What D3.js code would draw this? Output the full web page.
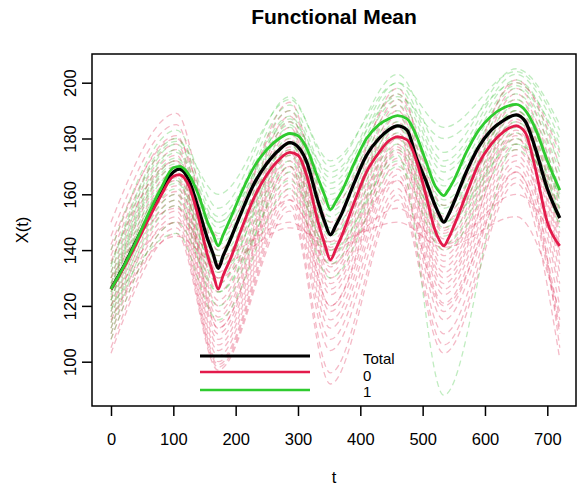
<!DOCTYPE html>
<html><head><meta charset="utf-8">
<script src="https://cdn.jsdelivr.net/npm/d3@7"></script>
<style>
body{margin:0;background:#fff}
svg{display:block}
text{font-family:"Liberation Sans",Arial,Helvetica,sans-serif;fill:#000}
</style>
</head><body>
<svg id="chart" width="578" height="487"></svg>
<script>
// ---------- data ----------
const chartTitle = "Functional Mean";
const xLabel = "t";
const yLabel = "X(t)";
const xTicks = [0, 100, 200, 300, 400, 500, 600, 700];
const yTicks = [100, 120, 140, 160, 180, 200];
const legendLabels = ["Total", "0", "1"];

// mean curves
const meanT = [0, 20, 40, 60, 80, 100, 110, 125, 140, 155, 164, 172, 180, 190, 210, 230, 250, 270, 287, 300, 315, 330, 343, 352, 361, 370, 390, 410, 430, 445, 460, 475, 490, 505, 520, 527, 534, 541, 550, 570, 590, 610, 630, 650, 665, 680, 700, 720];
const meanTotal = [126, 134, 143, 152, 161, 168, 169, 165, 155, 144, 138.5, 133.5, 138, 143, 154, 164, 171, 176, 178.5, 177, 171, 159, 150, 145.5, 149, 153, 164, 174, 180, 183, 184.5, 183, 173, 165, 156, 152.5, 150, 152.5, 157, 168, 177, 183, 186.5, 188.5, 186, 177, 162, 151.5];
const mean0 = [126, 133.5, 142, 151, 159.5, 166.5, 167, 163, 152, 138, 131.5, 126, 131, 136, 148, 159, 167, 172.5, 175, 174, 166, 152, 142, 136.5, 140.5, 145, 157, 168, 175, 179, 180.6, 179.5, 172, 160, 147, 143.5, 141.5, 144, 148.5, 160, 171, 178, 182.5, 184.5, 182, 170, 150, 141.5];
const mean1 = [126, 134, 143, 153, 162, 169.5, 170, 167, 160, 150, 145.5, 141.5, 145.5, 150.5, 161, 170, 176, 180, 181.8, 181, 176, 167, 159.5, 154.5, 157.5, 161, 171, 180, 185, 187, 188.2, 187, 181, 172, 163, 160.8, 159.5, 161.5, 165, 175, 183, 188, 191, 192.2, 190, 184, 172, 161.5];

// individual curves, values at these t positions
const curveT = [0, 105, 172, 287, 352, 460, 534, 650, 720];
const curves0 = [
  [150, 189, 140, 193, 150, 198, 152, 201, 170],
  [145, 185, 135, 188, 146, 194, 150, 198, 165],
  [140, 181, 132, 186, 143, 192, 148, 196, 160],
  [138, 178, 130, 184, 140, 190, 146, 194, 158],
  [135, 176, 128, 182, 141, 188, 147, 192, 155],
  [132, 174, 125, 180, 138, 186, 144, 190, 152],
  [130, 172, 122, 179, 136, 184, 142, 189, 150],
  [128, 170, 120, 177, 134, 182, 140, 187, 148],
  [127, 168, 118, 176, 132, 181, 138, 186, 146],
  [125, 166, 116, 175, 130, 180, 136, 185, 144],
  [123, 165, 114, 174, 128, 178, 134, 183, 142],
  [122, 163, 112, 172, 126, 177, 132, 182, 140],
  [120, 161, 110, 170, 124, 175, 130, 180, 138],
  [118, 160, 108, 168, 120, 173, 126, 178, 135],
  [116, 158, 106, 166, 118, 171, 124, 176, 132],
  [114, 156, 104, 164, 115, 169, 121, 174, 128],
  [112, 154, 102, 162, 112, 167, 118, 172, 125],
  [110, 152, 100, 160, 108, 165, 115, 170, 120],
  [108, 150, 99, 158, 104, 162, 110, 168, 115],
  [105, 148, 98, 156, 96, 160, 106, 166, 110],
  [103, 146, 97, 154, 92, 158, 103, 164, 101],
  [120, 150, 138, 150, 140, 155, 142, 160, 140],
  [115, 145, 135, 148, 143, 150, 141, 152, 118],
  [130, 155, 130, 158, 135, 165, 120, 168, 112],
  [142, 180, 145, 190, 155, 196, 156, 200, 175],
  [136, 172, 112, 170, 120, 176, 128, 181, 105]
];
const curves1 = [
  [140, 183, 155, 195, 170, 203, 175, 205, 185],
  [135, 180, 152, 192, 166, 200, 172, 203, 180],
  [132, 178, 150, 190, 164, 198, 170, 201, 176],
  [130, 176, 148, 188, 162, 196, 168, 199, 173],
  [128, 175, 146, 187, 160, 194, 165, 198, 170],
  [127, 173, 144, 185, 158, 192, 163, 196, 168],
  [125, 171, 142, 184, 156, 190, 161, 194, 165],
  [124, 170, 140, 182, 154, 188, 158, 192, 162],
  [122, 168, 138, 180, 152, 186, 156, 190, 160],
  [120, 166, 136, 178, 150, 184, 153, 188, 157],
  [118, 164, 134, 176, 148, 182, 150, 186, 154],
  [116, 162, 132, 174, 146, 180, 148, 184, 152],
  [114, 160, 128, 172, 142, 178, 145, 182, 150],
  [112, 158, 125, 170, 138, 176, 142, 180, 148],
  [110, 156, 120, 168, 135, 174, 88, 178, 160],
  [108, 150, 125, 165, 140, 172, 150, 178, 155],
  [119, 146, 115, 162, 130, 170, 140, 176, 150],
  [134, 179, 160, 194, 172, 200, 184, 204, 183],
  [126, 172, 150, 186, 168, 195, 180, 200, 178],
  [122, 165, 130, 178, 145, 185, 155, 190, 158]
];

// ---------- drawing ----------
const svg = d3.select("#chart");
const box = {l: 92, t: 54, r: 576, b: 406};
const x = d3.scaleLinear().domain([0, 700]).range([111, 547.3]);
const y = d3.scaleLinear().domain([100, 200]).range([361.7, 82.7]);

const col = {total: "#000000", g0: "#E31A4B", g1: "#2FCB2F",
             f0: "rgba(222,40,80,0.32)", f1: "rgba(60,195,60,0.32)"};

svg.append("clipPath").attr("id", "clip")
  .append("rect").attr("x", box.l).attr("y", box.t)
  .attr("width", box.r - box.l).attr("height", box.b - box.t);

const plot = svg.append("g").attr("clip-path", "url(#clip)");

const lineFaint = d3.line().x(d => x(d[0])).y(d => y(d[1])).curve(d3.curveMonotoneX);
const lineMean = d3.line().x(d => x(d[0])).y(d => y(d[1])).curve(d3.curveMonotoneX);

function drawFaint(set, color) {
  plot.append("g").selectAll("path").data(set).join("path")
    .attr("d", v => lineFaint(curveT.map((t, i) => [t, v[i]])))
    .attr("fill", "none").attr("stroke", color)
    .attr("stroke-width", 1.3).attr("stroke-dasharray", "6,4");
}
drawFaint(curves0, col.f0);
drawFaint(curves1, col.f1);

[[meanTotal, col.total, 3.3], [mean0, col.g0, 2.8], [mean1, col.g1, 2.8]].forEach(([vals, c, w]) => {
  plot.append("path")
    .attr("d", lineMean(meanT.map((t, i) => [t, vals[i]])))
    .attr("fill", "none").attr("stroke", c).attr("stroke-width", w)
    .attr("stroke-linejoin", "round");
});

// box
svg.append("rect").attr("x", box.l).attr("y", box.t)
  .attr("width", box.r - box.l).attr("height", box.b - box.t)
  .attr("fill", "none").attr("stroke", "#000").attr("stroke-width", 1.5);

// x axis
const gx = svg.append("g").attr("transform", `translate(0,${box.b})`)
  .call(d3.axisBottom(x).tickValues(xTicks).tickSize(10).tickPadding(17).tickFormat(d3.format("d")));
gx.select(".domain").remove();
gx.selectAll("line").attr("stroke", "#000").attr("stroke-width", 1.5);
gx.selectAll("text").attr("font-size", 16.5).attr("font-family", "Liberation Sans, Arial, sans-serif").attr("fill", "#000");

// y axis
const gy = svg.append("g").attr("transform", `translate(${box.l},0)`)
  .call(d3.axisLeft(y).tickValues(yTicks).tickSize(10).tickFormat(d3.format("d")));
gy.select(".domain").remove();
gy.selectAll("line").attr("stroke", "#000").attr("stroke-width", 1.5);
gy.selectAll("text")
  .attr("font-size", 16.5).attr("font-family", "Liberation Sans, Arial, sans-serif").attr("fill", "#000")
  .attr("x", 0).attr("y", -16).attr("dy", null)
  .attr("transform", "rotate(-90)")
  .style("text-anchor", "middle");

// titles
svg.append("text").attr("x", 334).attr("y", 23.5).attr("text-anchor", "middle")
  .attr("font-size", 21).attr("font-weight", "bold").text(chartTitle);
svg.append("text").attr("x", 334).attr("y", 483).attr("text-anchor", "middle")
  .attr("font-size", 16.5).text(xLabel);
svg.append("text").attr("transform", "translate(28,230) rotate(-90)").attr("text-anchor", "middle")
  .attr("font-size", 16.5).text(yLabel);

// legend
const legColors = [col.total, col.g0, col.g1];
const legWidths = [3.0, 2.4, 2.4];
const legLineY = [356, 372, 390];
const legTextY = [363.5, 380.5, 397];
legendLabels.forEach((lab, i) => {
  svg.append("line").attr("x1", 200).attr("x2", 310)
    .attr("y1", legLineY[i]).attr("y2", legLineY[i])
    .attr("stroke", legColors[i]).attr("stroke-width", legWidths[i]);
  svg.append("text").attr("x", 363).attr("y", legTextY[i])
    .attr("font-size", 15).text(lab);
});
</script>
</body></html>
